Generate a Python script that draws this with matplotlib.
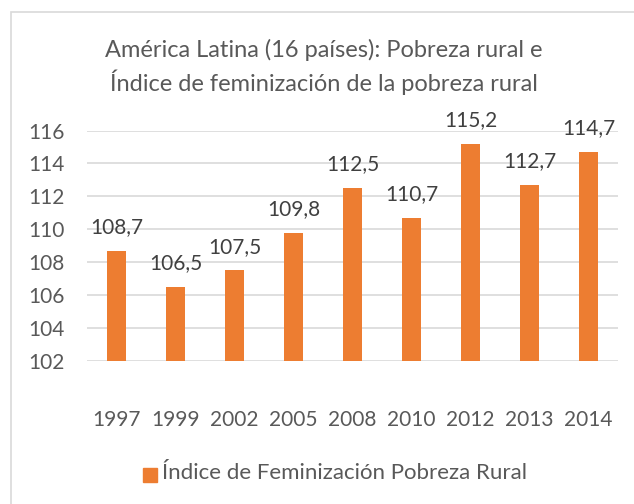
import matplotlib.pyplot as plt
from matplotlib.patches import Rectangle

plt.rcParams['font.family'] = ['Lato', 'DejaVu Sans']

# Data
years = ["1997", "1999", "2002", "2005", "2008", "2010", "2012", "2013", "2014"]
indice = [108.7, 106.5, 107.5, 109.8, 112.5, 110.7, 115.2, 112.7, 114.7]
y_ticks = [102, 104, 106, 108, 110, 112, 114, 116]

bar_color = "#ED7D31"
text_color = "#595959"
grid_color = "#D9D9D9"

fig = plt.figure(figsize=(6.34, 5.04), dpi=100)

# chart border
fig.patches.append(Rectangle((11 / 634, -0.1), 1.2, 1 - 12 / 504 + 0.1,
                             transform=fig.transFigure, fill=False,
                             edgecolor=grid_color, linewidth=1.2))

ax = fig.add_axes([87 / 634, 1 - 361 / 504, (618 - 87) / 634, (361 - 130.5) / 504])

x = range(len(years))
ax.bar(x, [v - 102 for v in indice], bottom=102, width=0.32, color=bar_color, zorder=3)

for i, v in enumerate(indice):
    ax.annotate(f"{v:.1f}".replace(".", ","), (i, v), xytext=(0, 17),
                textcoords="offset points", ha="center", va="center",
                fontsize=15, color="#404040")

ax.set_ylim(102, 116)
ax.set_xlim(-0.5, len(years) - 0.5)
ax.set_yticks(y_ticks)
ax.set_yticklabels([str(t) for t in y_ticks], fontsize=15, color=text_color)
ax.set_xticks(list(x))
ax.set_xticklabels(years, fontsize=15, color=text_color)
ax.tick_params(axis="both", length=0)
ax.tick_params(axis="x", pad=35)
ax.tick_params(axis="y", pad=16)
ax.yaxis.grid(True, color=grid_color, linewidth=1.2, zorder=0)
for s in ax.spines.values():
    s.set_visible(False)

fig.text(324 / 634, 1 - 50 / 504, "América Latina (16 países): Pobreza rural e",
         ha="center", va="center", fontsize=17, color=text_color)
fig.text(324 / 634, 1 - 82 / 504, "Índice de feminización de la pobreza rural",
         ha="center", va="center", fontsize=17, color=text_color)

# legend
fig.patches.append(Rectangle((143 / 634, 1 - 482 / 504), 14 / 634, 14 / 504,
                             transform=fig.transFigure, color=bar_color))
fig.text(162 / 634, 1 - 473 / 504, "Índice de Feminización Pobreza Rural",
         ha="left", va="center", fontsize=16, color=text_color)

plt.savefig("out.png", dpi=100)
